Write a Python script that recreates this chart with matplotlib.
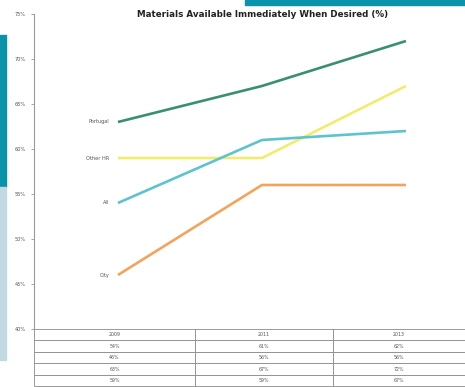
import matplotlib.pyplot as plt
from matplotlib.patches import Rectangle

# survey results, % of respondents
years = ['2009', '2011', '2013']
series_names = ['Portugal', 'Other HR', 'All', 'City']
portugal = [63, 67, 72]
other_hr = [59, 59, 67]
all_resp = [54, 61, 62]
city = [46, 56, 56]
colors = ['#3a8f72', '#f2ec6e', '#5fc2cf', '#f4a35c']
y_ticks = [40, 45, 50, 55, 60, 65, 70, 75]

fig = plt.figure(figsize=(4.65, 3.87), dpi=100)

# slide decorations around the chart
fig.patches.append(Rectangle((0, 200 / 387), 6 / 465, 152 / 387, transform=fig.transFigure,
                             color='#0a93a8', zorder=0))
fig.patches.append(Rectangle((0, 27 / 387), 6 / 465, 173 / 387, transform=fig.transFigure,
                             color='#c3d9e1', zorder=0))
fig.patches.append(Rectangle((245 / 465, 382 / 387), 220 / 465, 5 / 387, transform=fig.transFigure,
                             color='#0a93a8', zorder=0))

ax = fig.add_axes([34 / 465, 58 / 387, 431 / 465, 315 / 387])
ax.set_facecolor('none')

x = list(range(len(years)))
for name, vals, c in zip(series_names, [portugal, other_hr, all_resp, city], colors):
    ax.plot(x, vals, color=c, lw=1.9, solid_capstyle='butt')
    ax.text(-0.06, vals[0], name, ha='right', va='center', fontsize=3.6, color='#555555')

ax.set_xlim(-0.583, 2.41)
ax.set_ylim(40, 75)
ax.set_yticks(y_ticks)
ax.set_yticklabels([f'{t}%' for t in y_ticks], fontsize=3.6, color='#555555')
ax.tick_params(axis='y', length=2, width=0.6, color='#999999', pad=4)
ax.set_xticks([])
for s in ['top', 'right', 'bottom']:
    ax.spines[s].set_visible(False)
ax.spines['left'].set_color('#999999')
ax.spines['left'].set_linewidth(0.8)
ax.spines['left'].set_bounds(40, 75)

ax.text(0.53, 0.998, 'Materials Available Immediately When Desired (%)', transform=ax.transAxes,
        fontsize=6.3, fontweight='bold', color='#222222', ha='center', va='center')

# data table under the plot
rows = [all_resp, city, portugal, other_hr]
cell_text = [years] + [[f'{v}%' for v in r] for r in rows]
tbl = ax.table(cellText=cell_text, cellLoc='center', bbox=[0, -0.182, 1.0, 0.182],
               colWidths=[161, 138, 132])
tbl.auto_set_font_size(False)
tbl.set_fontsize(3.4)
for (r, c), cell in tbl.get_celld().items():
    cell.set_edgecolor('#8a8a8a')
    cell.set_linewidth(0.6)
    cell.get_text().set_color('#555555')

fig.savefig('out.png', dpi=100)
